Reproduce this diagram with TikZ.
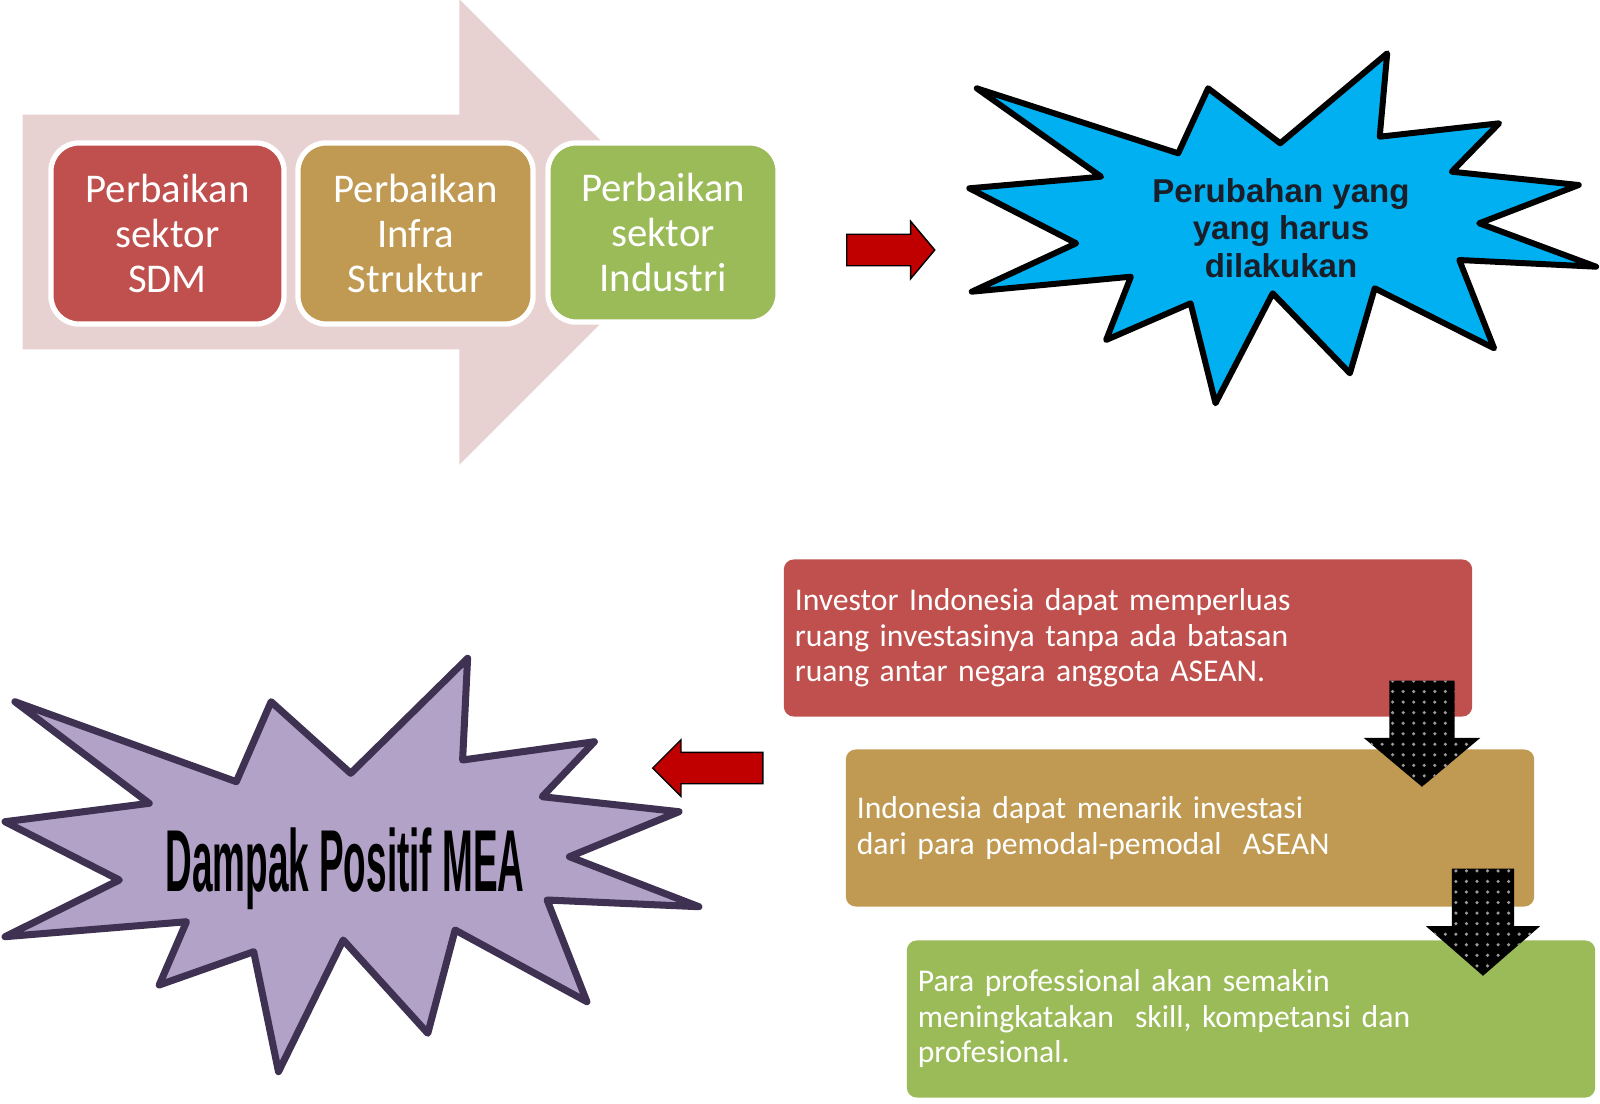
\documentclass[tikz,border=0pt]{standalone}
\usepackage{fontspec}
\setmainfont{Carlito}
\newfontfamily\starfont{Liberation Sans}
\newfontfamily\meafont{Liberation Sans}[FakeStretch=0.42]
\usepackage{tikz}
\usetikzlibrary{shapes.arrows,patterns}
\definecolor{flowpink}{RGB}{232,209,209}
\definecolor{boxred}{RGB}{192,80,77}
\definecolor{boxtan}{RGB}{192,154,82}
\definecolor{boxgreen}{RGB}{155,187,89}
\definecolor{starblue}{RGB}{0,176,240}
\definecolor{starlilac}{RGB}{178,162,199}
\definecolor{starline}{RGB}{63,49,81}
\definecolor{arrowred}{RGB}{192,0,0}
\definecolor{startext}{RGB}{25,30,40}

\begin{document}
\begin{tikzpicture}[x=0.01cm,y=-0.01cm,
  stepcard/.style={draw=white,line width=1.5pt,rounded corners=0.28cm,
    text=white,align=center,minimum width=2.33cm,minimum height=1.81cm,
    font=\fontsize{11.6}{12.8}\selectfont},
  infocard/.style={rounded corners=0.1cm,text=white,align=left,
    inner xsep=0.11cm,minimum height=1.57cm,text width=6.66cm,
    font=\fontsize{9.0}{10.1}\selectfont},
  redarrow/.style={single arrow,draw=black,fill=arrowred,inner xsep=0pt,
    inner ysep=0.15cm,anchor=tail},
  dotarrow/.style={single arrow,fill=black,inner xsep=0pt,anchor=tail,
    postaction={pattern=dots,pattern color=white!60!black}}]
\useasboundingbox (0,0) rectangle (1600,1103);

% upper half: three steps on a pale arrow
\node[single arrow,fill=flowpink,inner xsep=0pt,inner ysep=1.165cm,
      minimum height=6.69cm,minimum width=4.64cm,anchor=tail,
      single arrow head extend=1.155cm,single arrow tip angle=90]
     (flow) at (22,232) {};
\node[stepcard,fill=boxred] (sdm) at (167.5,233.5) {Perbaikan\\sektor\\SDM};
\node[stepcard,fill=boxtan,minimum width=2.35cm] (infra) at (415.5,233.5)
     {Perbaikan\\Infra\\Struktur};
\node[stepcard,fill=boxgreen,minimum width=2.30cm,minimum height=1.79cm]
     (industri) at (663,232.5) {Perbaikan\\sektor\\Industri};

\node[redarrow,minimum height=0.88cm,minimum width=0.56cm,
      single arrow head extend=0.13cm,single arrow tip angle=100]
     (goright) at (846,250) {};

\draw[fill=starblue,line width=1.7pt,line join=round]
  (976.7,88.3) -- (1178.2,153.3) -- (1208.1,88.3) -- (1280.2,143.3)
  -- (1387.2,53.3) -- (1379.7,136.7) -- (1499.1,123.3) -- (1451.8,171.7)
  -- (1578.7,185) -- (1479.2,223.3) -- (1596.1,266.7) -- (1459.3,260)
  -- (1494.1,348.3) -- (1374.7,288.3) -- (1349.9,373.3) -- (1272.7,293.3)
  -- (1215.5,403.3) -- (1190.6,303.3) -- (1106.1,340) -- (1130.9,276.7)
  -- (971.7,291.7) -- (1076.2,243.3) -- (969.3,188.3) -- (1101.1,176.7)
  -- cycle;
\node[font=\starfont\bfseries\fontsize{9.4}{10.7}\selectfont,text=startext,
      align=center] (change) at (1281,228) {Perubahan yang\\yang harus\\dilakukan};

% lower half: impacts
\draw[fill=starlilac,draw=starline,line width=2pt,line join=round]
  (14.9,701.7) -- (236.3,781.7) -- (271.1,701.7) -- (350.7,773.3)
  -- (467.6,658.3) -- (462.6,760) -- (594.4,741.7) -- (542.2,796.7)
  -- (679,811.7) -- (569.5,856.7) -- (698.9,906.7) -- (547.1,900)
  -- (586.9,1001.7) -- (455.1,930) -- (427.8,1033.3) -- (343.2,940)
  -- (278.5,1071.7) -- (253.7,951.7) -- (159.2,985) -- (186.5,921.7)
  -- (5,936.7) -- (119.4,880) -- (5,821.7) -- (149.2,803.3) -- cycle;
\node[font=\meafont\bfseries\fontsize{25}{30}\selectfont,anchor=base]
     (mea) at (345,891) {Dampak Positif MEA};

\node[redarrow,rotate=180,minimum height=1.1cm,minimum width=0.55cm,
      single arrow head extend=0.125cm,single arrow tip angle=90]
     (goleft) at (763.5,768) {};

\node[infocard,fill=boxred] (investor) at (1128,638)
  {Investor Indonesia dapat memperluas\\ruang investasinya tanpa ada batasan\\ruang antar negara anggota ASEAN.};
\node[infocard,fill=boxtan] (modal) at (1190,828)
  {Indonesia dapat menarik investasi\\dari para pemodal-pemodal~ ASEAN};
\node[infocard,fill=boxgreen] (profesi) at (1251,1019)
  {Para professional akan semakin\\meningkatakan~ skill, kompetansi dan\\profesional.};

\node[dotarrow,rotate=-90,inner ysep=0.32cm,minimum height=1.06cm,
      minimum width=1.15cm,single arrow head extend=0.255cm,
      single arrow tip angle=100] (downa) at (1422,680) {};
\node[dotarrow,rotate=-90,inner ysep=0.305cm,minimum height=1.07cm,
      minimum width=1.13cm,single arrow head extend=0.26cm,
      single arrow tip angle=98] (downb) at (1483,868) {};
\end{tikzpicture}
\end{document}
